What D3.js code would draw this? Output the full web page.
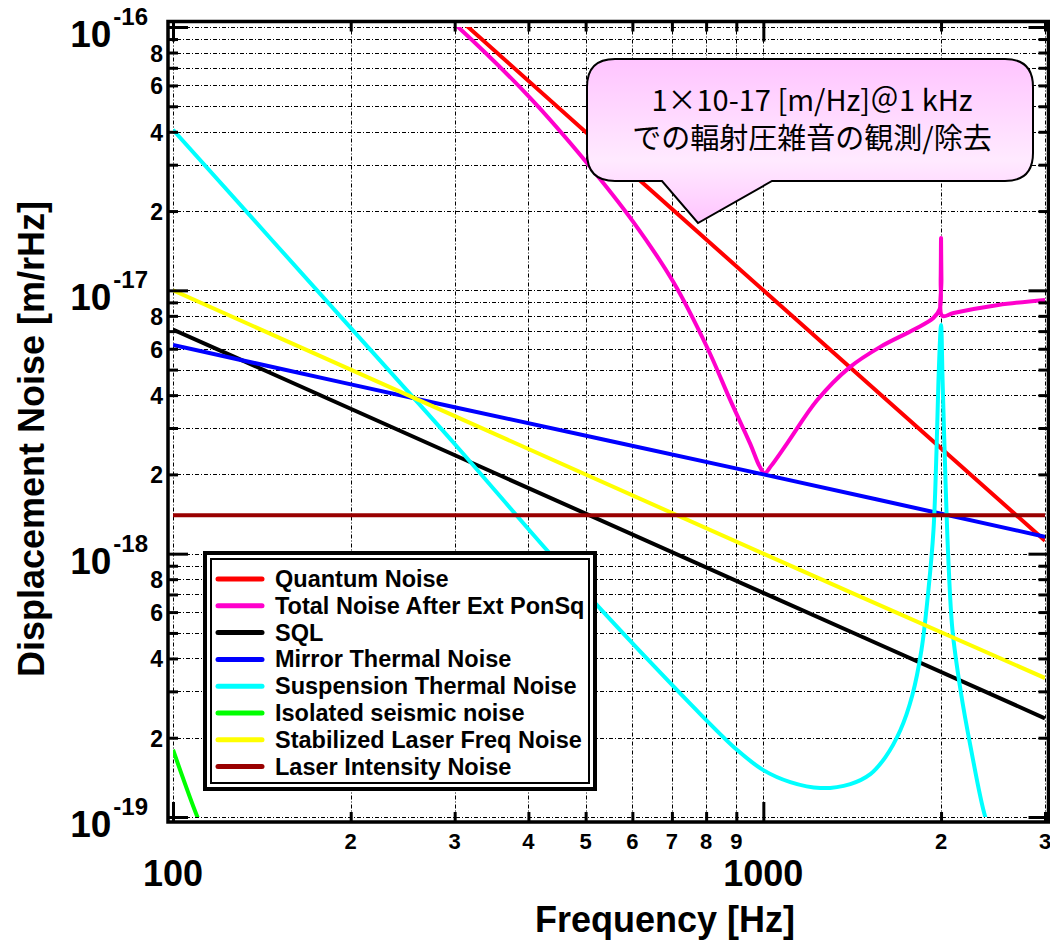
<!DOCTYPE html>
<html>
<head>
<meta charset="utf-8">
<title>Displacement Noise</title>
<style>
    body { margin: 0; background: #fff; }
    svg { font-family: 'Liberation Sans', Arial, sans-serif; }
    .grid line { stroke: #000; stroke-width: 1; stroke-dasharray: 4,2,1,2; }
    .ticks line { stroke: #000; stroke-width: 3; }
    .ticks path { display: none; }
    .lbl { font-weight: 700; fill: #000; }
</style>
</head>
<body>
<figure style="margin:0"></figure>
<script src="https://d3js.org/d3.v7.min.js"></script>
<script>

    ////////// Data //////////

    const freqMajor = [100, 1000]
    const freqMinor = [200, 300, 400, 500, 600, 700, 800, 900, 2000, 3000]
    const freqMinorLabels = ['2', '3', '4', '5', '6', '7', '8', '9', '2', '3']
    const noiseMajor = [1e-19, 1e-18, 1e-17, 1e-16]
    const noiseMajorExp = ['-19', '-18', '-17', '-16']
    const noiseMantissa = [2, 3, 4, 5, 6, 7, 8, 9]
    const noiseMantissaLabeled = [2, 4, 6, 8]

    // Quantum Noise
    const quantumF = [300, 1000, 3000]
    const quantumN = [1.11e-16, 1.0e-17, 1.12e-18]

    // Total Noise After Ext PonSq
    const totalF = [295, 304, 403, 503, 602, 704, 804, 879, 951, 985, 1005, 1030, 1098, 1234, 1400, 1578, 1800, 1941, 1990, 1997, 2000, 2003, 2010, 2100, 2500, 3000]
    const totalN = [1.06e-16, 1.0e-16, 5.37e-17, 3.04e-17, 1.82e-17, 1.075e-17, 6.04e-18, 3.83e-18, 2.6e-18, 2.15e-18, 2.02e-18, 2.15e-18, 2.63e-18, 3.83e-18, 5.1e-18, 6.1e-18, 7.1e-18, 7.85e-18, 8.5e-18, 1.1e-17, 1.58e-17, 1.1e-17, 8.0e-18, 8.2e-18, 8.8e-18, 9.2e-18]

    // SQL
    const sqlF = [100, 1000, 3000]
    const sqlN = [7.1e-18, 7.1e-19, 2.37e-19]

    // Mirror Thermal Noise
    const mirrorF = [100, 300, 1000, 3000]
    const mirrorN = [6.2e-18, 3.6e-18, 2.0e-18, 1.16e-18]

    // Suspension Thermal Noise
    const suspF = [100, 200, 300, 430, 536, 643, 782, 903, 1000, 1111, 1249, 1404, 1518, 1610, 1707, 1788, 1853, 1904, 1942, 1965, 1980, 2000, 2012, 2035, 2058, 2091, 2158, 2245, 2377, 2450]
    const suspN = [4.07e-17, 7.2e-18, 2.61e-18, 1.03e-18, 6.0e-19, 3.88e-19, 2.46e-19, 1.795e-19, 1.507e-19, 1.357e-19, 1.288e-19, 1.334e-19, 1.455e-19, 1.689e-19, 2.14e-19, 2.9e-19, 4.31e-19, 7.28e-19, 1.23e-18, 2.47e-18, 4.56e-18, 7.38e-18, 4.56e-18, 1.9e-18, 9.46e-19, 5.13e-19, 3.03e-19, 1.84e-19, 1.0e-19, 8.5e-20]

    // Isolated seismic noise
    const seismicF = [100, 110, 112]
    const seismicN = [1.8e-19, 1.0e-19, 0.92e-19]

    // Stabilized Laser Freq Noise
    const freqNoiseF = [100, 1000, 3000]
    const freqNoiseN = [1.0e-17, 1.0e-18, 3.37e-19]

    // Laser Intensity Noise
    const intensityF = [100, 3000]
    const intensityN = [1.4e-18, 1.4e-18]

    const seriesNames = ['Quantum Noise', 'Total Noise After Ext PonSq', 'SQL', 'Mirror Thermal Noise',
        'Suspension Thermal Noise', 'Isolated seismic noise', 'Stabilized Laser Freq Noise', 'Laser Intensity Noise']
    const seriesColors = ['#ff0000', '#ff00cc', '#000000', '#0000ff', '#00ffff', '#00ff00', '#ffff00', '#990000']
    const seriesF = [quantumF, totalF, sqlF, mirrorF, suspF, seismicF, freqNoiseF, intensityF]
    const seriesN = [quantumN, totalN, sqlN, mirrorN, suspN, seismicN, freqNoiseN, intensityN]

    ////////// SVG setup //////////

    const W = 1050, H = 947
    const box = { left: 168, right: 1048.5, top: 21.5, bottom: 822 }

    const svg = d3.select('figure').append('svg')
        .attr('width', W).attr('height', H)

    const x = d3.scaleLog().domain([100, 3000]).range([173, 1045])
    const y = d3.scaleLog().domain([1e-19, 1e-16]).range([817, 27])

    const noiseMinor = []
    noiseMajor.slice(0, 3).forEach(d => noiseMantissa.forEach(m => noiseMinor.push(m * d)))

    ////////// Grid //////////

    const grid = svg.append('g').attr('class', 'grid')
    grid.selectAll('line.v').data(freqMajor.concat(freqMinor)).join('line')
        .attr('x1', d => Math.round(x(d)) + 0.5).attr('x2', d => Math.round(x(d)) + 0.5)
        .attr('y1', box.top).attr('y2', box.bottom)
    grid.selectAll('line.h').data(noiseMajor.concat(noiseMinor)).join('line')
        .attr('class', 'h')
        .attr('y1', d => Math.round(y(d)) + 0.5).attr('y2', d => Math.round(y(d)) + 0.5)
        .attr('x1', box.left).attr('x2', box.right)

    ////////// Curves //////////

    svg.append('clipPath').attr('id', 'plotclip')
        .append('rect')
        .attr('x', x(100)).attr('y', y(1e-16))
        .attr('width', x(3000) - x(100)).attr('height', y(1e-19) - y(1e-16))

    const line = d3.line()
        .x(d => x(d[0])).y(d => y(d[1]))
        .curve(d3.curveCatmullRom.alpha(0.5))

    svg.append('g').attr('clip-path', 'url(#plotclip)')
        .selectAll('path')
        .data(seriesF.map((f, i) => f.map((v, j) => [v, seriesN[i][j]])))
        .join('path')
        .attr('d', line)
        .attr('fill', 'none')
        .attr('stroke', (d, i) => seriesColors[i])
        .attr('stroke-width', 4)
        .attr('stroke-linejoin', 'round')

    ////////// Axes (ticks inside) //////////

    function ticks(axis, tx, ty) {
        svg.append('g').attr('class', 'ticks')
            .attr('transform', `translate(${tx},${ty})`)
            .call(axis)
    }
    ticks(d3.axisBottom(x).tickValues(freqMinor).tickSize(-10).tickFormat(''), 0, box.bottom)
    ticks(d3.axisBottom(x).tickValues(freqMajor).tickSize(-20).tickFormat(''), 0, box.bottom)
    ticks(d3.axisTop(x).tickValues(freqMinor).tickSize(-10).tickFormat(''), 0, box.top)
    ticks(d3.axisTop(x).tickValues(freqMajor).tickSize(-20).tickFormat(''), 0, box.top)
    ticks(d3.axisLeft(y).tickValues(noiseMinor).tickSize(-10).tickFormat(''), box.left, 0)
    ticks(d3.axisLeft(y).tickValues(noiseMajor).tickSize(-20).tickFormat(''), box.left, 0)
    ticks(d3.axisRight(y).tickValues(noiseMinor).tickSize(-10).tickFormat(''), box.right, 0)
    ticks(d3.axisRight(y).tickValues(noiseMajor).tickSize(-20).tickFormat(''), box.right, 0)

    // frame
    svg.append('rect')
        .attr('x', box.left).attr('y', box.top)
        .attr('width', box.right - box.left).attr('height', box.bottom - box.top)
        .attr('fill', 'none').attr('stroke', '#000').attr('stroke-width', 3.5)

    ////////// Tick labels //////////

    svg.selectAll('text.xmaj').data(freqMajor).join('text')
        .attr('class', 'lbl')
        .attr('x', d => x(d)).attr('y', 886)
        .attr('text-anchor', 'middle').attr('font-size', 36)
        .text(d => d)

    svg.selectAll('text.xmin').data(freqMinor).join('text')
        .attr('class', 'lbl')
        .attr('x', d => x(d)).attr('y', 849)
        .attr('text-anchor', 'middle').attr('font-size', 22)
        .text((d, i) => freqMinorLabels[i])

    const ymaj = svg.selectAll('text.ymaj').data(noiseMajor).join('text')
        .attr('class', 'lbl')
        .attr('x', 148).attr('y', d => y(d) + 20)
        .attr('text-anchor', 'end')
    ymaj.append('tspan').attr('font-size', 37).text('10')
    ymaj.append('tspan').attr('font-size', 24).attr('dx', 2).attr('dy', -22)
        .text((d, i) => noiseMajorExp[i])

    svg.selectAll('text.ymin')
        .data(noiseMinor.filter((d, i) => noiseMantissaLabeled.includes(noiseMantissa[i % 8])))
        .join('text')
        .attr('class', 'lbl')
        .attr('x', 163).attr('y', d => y(d) + 9)
        .attr('text-anchor', 'end').attr('font-size', 23)
        .text(d => Math.round(d / Math.pow(10, Math.floor(Math.log10(d) + 1e-9))))

    ////////// Axis titles //////////

    svg.append('text').attr('class', 'lbl')
        .attr('x', 665).attr('y', 932)
        .attr('text-anchor', 'middle').attr('font-size', 36)
        .text('Frequency [Hz]')

    svg.append('text').attr('class', 'lbl')
        .attr('transform', 'translate(44,439) rotate(-90)')
        .attr('text-anchor', 'middle').attr('font-size', 36)
        .text('Displacement Noise [m/rHz]')

    ////////// Legend //////////

    const lg = svg.append('g')
    lg.append('rect').attr('x', 205).attr('y', 553).attr('width', 390).attr('height', 236)
        .attr('fill', '#fff').attr('stroke', '#000').attr('stroke-width', 4)
    lg.append('rect').attr('x', 211).attr('y', 559).attr('width', 378).attr('height', 224)
        .attr('fill', 'none').attr('stroke', '#000').attr('stroke-width', 2)

    const rows = lg.selectAll('g.row').data(seriesNames).join('g')
        .attr('transform', (d, i) => `translate(0,${579 + i * 26.8})`)
    rows.append('line')
        .attr('x1', 218).attr('x2', 262)
        .attr('stroke', (d, i) => seriesColors[i])
        .attr('stroke-width', 5).attr('stroke-linecap', 'round')
    rows.append('text').attr('class', 'lbl')
        .attr('x', 275).attr('y', 8)
        .attr('font-size', 23.5)
        .text(d => d)

    ////////// Callout //////////

    const defs = svg.append('defs')
    const grad = defs.append('linearGradient').attr('id', 'pinkgrad')
        .attr('x1', 0).attr('y1', 0).attr('x2', 0).attr('y2', 1)
    grad.append('stop').attr('offset', '0%').attr('stop-color', '#ffc4ff')
    grad.append('stop').attr('offset', '62%').attr('stop-color', '#ffeaff')
    grad.append('stop').attr('offset', '100%').attr('stop-color', '#ffc4ff')

    const cL = 587, cR = 1033, cT = 59, cB = 181, r = 28
    const callout = d3.path()
    callout.moveTo(cL + r, cT)
    callout.lineTo(cR - r, cT)
    callout.quadraticCurveTo(cR, cT, cR, cT + r)
    callout.lineTo(cR, cB - r)
    callout.quadraticCurveTo(cR, cB, cR - r, cB)
    callout.lineTo(772, cB)
    callout.lineTo(698, 223)
    callout.lineTo(662, cB)
    callout.lineTo(cL + r, cB)
    callout.quadraticCurveTo(cL, cB, cL, cB - r)
    callout.lineTo(cL, cT + r)
    callout.quadraticCurveTo(cL, cT, cL + r, cT)
    callout.closePath()

    svg.append('path').attr('d', callout.toString())
        .attr('fill', 'url(#pinkgrad)')
        .attr('stroke', '#000').attr('stroke-width', 2)

    const ctext = svg.append('text')
        .attr('font-family', "'Noto Sans CJK JP', 'Noto Sans', sans-serif")
        .attr('font-size', 29).attr('fill', '#000')
        .attr('text-anchor', 'middle')
    ctext.append('tspan').attr('x', 812).attr('y', 111).text('1×10-17 [m/Hz]＠1 kHz')
    ctext.append('tspan').attr('x', 812).attr('y', 149).text('での輻射圧雑音の観測/除去')

</script>
</body>
</html>
